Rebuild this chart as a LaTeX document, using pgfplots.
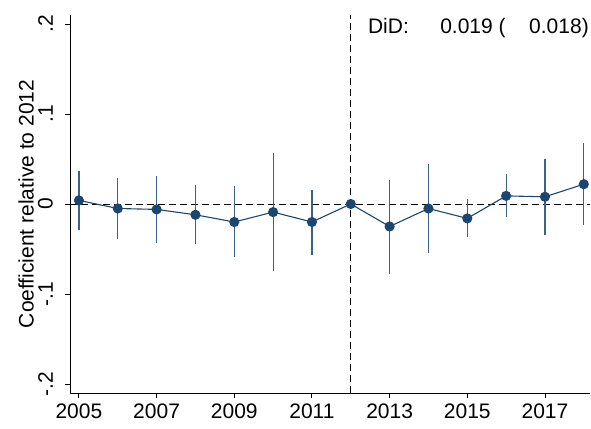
\documentclass[border=0pt]{standalone}
\usepackage{fontspec}
\setmainfont{Liberation Sans}
\usepackage{pgfplots}
\pgfplotsset{compat=1.18}
\usepackage{pgfplotstable}
\definecolor{stnavy}{HTML}{1A476F}
\pgfplotstableread{
x y ep em
2005 0.004 0.033 0.033
2006 -0.005 0.034 0.034
2007 -0.006 0.037 0.037
2008 -0.012 0.033 0.032
2009 -0.020 0.040 0.039
2010 -0.009 0.066 0.066
2011 -0.020 0.036 0.037
2012 0.000 0.000 0.000
2013 -0.025 0.052 0.053
2014 -0.005 0.049 0.049
2015 -0.016 0.021 0.021
2016 0.009 0.024 0.024
2017 0.008 0.042 0.042
2018 0.022 0.046 0.045
}\coefdata
\begin{document}
\begin{tikzpicture}[font=\fontsize{21}{25}\selectfont]
\useasboundingbox (-70pt,-35pt) rectangle (521pt,393pt);
\begin{axis}[
  at={(0,0)}, anchor=south west,
  width=520pt, height=378pt, scale only axis,
  xmin=2004.77, xmax=2018.16, ymin=-0.21, ymax=0.21,
  axis x line*=bottom, axis y line*=left,
  axis line style={black, line width=0.9pt, -},
  xtick={2005,2007,2009,2011,2013,2015,2017},
  xticklabels={2005,2007,2009,2011,2013,2015,2017},
  ytick={-0.2,-0.1,0,0.1,0.2},
  yticklabels={-.2,-.1,0,.1,.2},
  tick align=outside, major tick length=5pt,
  tick style={black, line width=0.9pt},
  xticklabel style={anchor=north, inner sep=0pt},
  xticklabel shift=6pt,
  yticklabel style={rotate=90, anchor=south, inner sep=0pt},
  yticklabel shift=12pt,
  ylabel={Coefficient relative to 2012},
  ylabel style={at={(axis description cs:-0.0700,0.5)}, anchor=base, inner sep=0pt},
  clip=false,
]
\addplot[black, line width=0.9pt, dash pattern=on 7pt off 4pt, forget plot] coordinates {(2004.77,0) (2018.16,0)};
\addplot[black, line width=0.9pt, dash pattern=on 7pt off 4pt, forget plot] coordinates {(2012,-0.21) (2012,0.21)};
\addplot[stnavy, line width=1.1pt, mark=*, mark size=4.5pt,
  mark options={fill=stnavy, draw=stnavy},
  error bars/.cd, y dir=both, y explicit,
  error mark=none,
  error bar style={stnavy!85!white, line width=1.2pt}]
  table[x=x, y=y, y error plus=ep, y error minus=em] {\coefdata};
\node[anchor=base west, inner sep=0pt] at (axis cs:2012.44,0.1897) {DiD:};
\node[anchor=base west, inner sep=0pt] at (axis cs:2014.30,0.1897) {0.019 (};
\node[anchor=base west, inner sep=0pt] at (axis cs:2016.59,0.1897) {0.018)};
\end{axis}
\end{tikzpicture}
\end{document}
